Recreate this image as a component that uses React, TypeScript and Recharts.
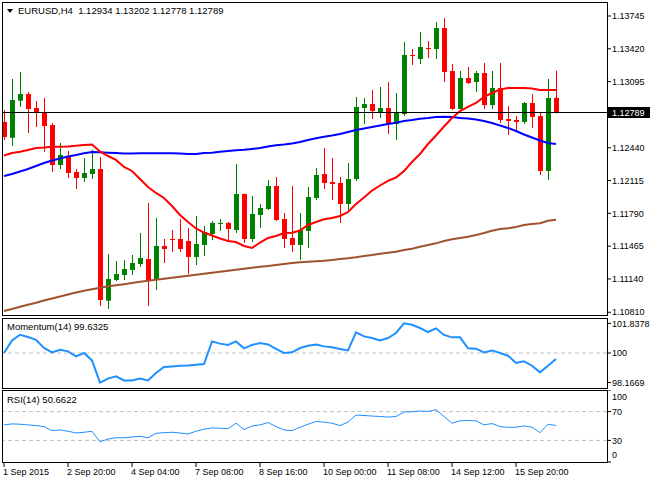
import React from 'react';
import { ComposedChart, LineChart, Line, Bar, XAxis, YAxis, ReferenceLine } from 'recharts';

const symbolName = 'EURUSD,H4';

const opens = [
  1.12695, 1.12539, 1.12906, 1.12972, 1.12834, 1.12794, 1.12665, 1.12269, 1.12358, 1.122,
  1.1214, 1.1218, 1.12229, 1.10925, 1.1113, 1.11179, 1.11229, 1.11288, 1.11338, 1.1113,
  1.11467, 1.11536, 1.11536, 1.11516, 1.11358, 1.11477, 1.11586, 1.11685, 1.11695, 1.11625,
  1.11982, 1.11536, 1.11774, 1.11833, 1.12061, 1.11734, 1.11546, 1.11477, 1.11616, 1.11942,
  1.1218, 1.12101, 1.12091, 1.11883, 1.1213, 1.12834, 1.12873, 1.12794, 1.12834, 1.12675,
  1.12774, 1.13359, 1.13319, 1.13428, 1.13418, 1.13626, 1.132, 1.12824, 1.13131, 1.13091,
  1.1318, 1.12863, 1.13032, 1.12725, 1.12715, 1.12695, 1.12883, 1.12754, 1.1221, 1.12934,
];
const highs = [
  1.12814, 1.13121, 1.1319, 1.12992, 1.12903, 1.12933, 1.12685, 1.12487, 1.12408, 1.12229,
  1.12338, 1.12418, 1.12348, 1.11387, 1.11318, 1.11328, 1.11378, 1.11596, 1.11893, 1.11744,
  1.11536, 1.11625, 1.11734, 1.11645, 1.11764, 1.11665, 1.11715, 1.11734, 1.11705, 1.12279,
  1.11985, 1.11962, 1.11883, 1.1212, 1.1215, 1.11794, 1.12061, 1.11794, 1.12051, 1.12239,
  1.12437, 1.12338, 1.1215, 1.12289, 1.12943, 1.12933, 1.13012, 1.13042, 1.13091, 1.12982,
  1.13487, 1.13418, 1.13587, 1.13497, 1.13686, 1.13725, 1.1327, 1.132, 1.1324, 1.132,
  1.13279, 1.132, 1.13279, 1.12853, 1.12754, 1.12893, 1.12972, 1.12784, 1.13121, 1.13202,
];
const lows = [
  1.12517, 1.12457, 1.12844, 1.12586, 1.12645, 1.12398, 1.122, 1.12229, 1.1214, 1.12031,
  1.12101, 1.1213, 1.10872, 1.10843, 1.1112, 1.1113, 1.11179, 1.11259, 1.10872, 1.11031,
  1.11298, 1.11407, 1.11407, 1.11189, 1.11278, 1.11368, 1.11526, 1.11616, 1.11516, 1.11596,
  1.11497, 1.11507, 1.11645, 1.11823, 1.11715, 1.11447, 1.11407, 1.11328, 1.11447, 1.11922,
  1.12031, 1.11922, 1.11695, 1.11823, 1.12111, 1.12675, 1.12725, 1.12735, 1.12576, 1.12517,
  1.12754, 1.1326, 1.1327, 1.13329, 1.13319, 1.13091, 1.12814, 1.1282, 1.13071, 1.12992,
  1.12824, 1.12824, 1.12685, 1.12566, 1.12596, 1.12675, 1.12636, 1.1217, 1.1212, 1.12778,
];
const closes = [
  1.12546, 1.12913, 1.12972, 1.12824, 1.12784, 1.12655, 1.12269, 1.12368, 1.1219, 1.1214,
  1.1219, 1.12229, 1.10932, 1.1114, 1.11189, 1.11239, 1.11298, 1.11348, 1.1113, 1.11467,
  1.11437, 1.11526, 1.11437, 1.11358, 1.11487, 1.11606, 1.11695, 1.11695, 1.11635, 1.11982,
  1.11536, 1.11784, 1.11843, 1.12061, 1.11724, 1.11536, 1.11477, 1.11625, 1.11952, 1.1217,
  1.12091, 1.12081, 1.11883, 1.1213, 1.12844, 1.12873, 1.12804, 1.12834, 1.12675, 1.12784,
  1.13359, 1.13349, 1.13438, 1.13418, 1.13626, 1.1319, 1.12824, 1.13131, 1.13081, 1.1318,
  1.12863, 1.13032, 1.12715, 1.12705, 1.12695, 1.12883, 1.12745, 1.1221, 1.12933, 1.12789,
];

// red moving average
const maFast = [
  1.12363, 1.12388, 1.12401, 1.12418, 1.12437, 1.12442, 1.1245, 1.1245, 1.12452, 1.1246,
  1.12467, 1.12472, 1.12403, 1.12358, 1.12319, 1.12249, 1.1221, 1.1213, 1.12051, 1.11992,
  1.11942, 1.11863, 1.11774, 1.11704, 1.1164, 1.116, 1.11571, 1.11541, 1.11516, 1.11506,
  1.11467, 1.11447, 1.11501, 1.11546, 1.11566, 1.11595, 1.11598, 1.1162, 1.11675, 1.11704,
  1.11731, 1.11744, 1.11764, 1.11803, 1.11883, 1.11947, 1.12016, 1.12066, 1.12111, 1.12145,
  1.1221, 1.12299, 1.12378, 1.12477, 1.12561, 1.1265, 1.12735, 1.12804, 1.12844, 1.12883,
  1.12943, 1.12982, 1.13017, 1.13032, 1.13032, 1.13032, 1.13027, 1.13012, 1.13012, 1.13012,
];
// blue moving average
const maMid = [
  1.1216, 1.1218, 1.12205, 1.12229, 1.12259, 1.12289, 1.12314, 1.12333, 1.12353, 1.12368,
  1.12385, 1.12398, 1.12395, 1.12391, 1.12388, 1.12383, 1.12383, 1.12385, 1.12385, 1.12385,
  1.12385, 1.12385, 1.12383, 1.12378, 1.12378, 1.12388, 1.12391, 1.12401, 1.12408, 1.12415,
  1.1242, 1.12428, 1.12437, 1.12452, 1.12464, 1.12472, 1.12482, 1.12497, 1.12517, 1.12534,
  1.12549, 1.12561, 1.12576, 1.12596, 1.12616, 1.12631, 1.12645, 1.1266, 1.12675, 1.12688,
  1.12705, 1.12715, 1.12727, 1.12735, 1.12745, 1.12747, 1.12745, 1.12735, 1.1273, 1.1272,
  1.12705, 1.12685, 1.1266, 1.12636, 1.12606, 1.12571, 1.12541, 1.12512, 1.12487, 1.12477,
];
// brown moving average
const maSlow = [
  1.10823, 1.10843, 1.10865, 1.10885, 1.10905, 1.10927, 1.10947, 1.10966, 1.10986, 1.11006,
  1.11024, 1.11039, 1.11054, 1.11067, 1.11077, 1.11088, 1.111, 1.11112, 1.11123, 1.11133,
  1.11143, 1.11153, 1.11163, 1.11172, 1.11182, 1.11192, 1.11202, 1.11212, 1.11222, 1.11232,
  1.11242, 1.11252, 1.11262, 1.11269, 1.11278, 1.11288, 1.11298, 1.11305, 1.11311, 1.11316,
  1.11321, 1.11328, 1.11338, 1.11345, 1.11355, 1.11368, 1.11378, 1.1139, 1.114, 1.1141,
  1.11427, 1.1144, 1.1146, 1.11477, 1.11493, 1.11516, 1.11533, 1.11546, 1.11559, 1.11576,
  1.11595, 1.11617, 1.11635, 1.11642, 1.11655, 1.11675, 1.11685, 1.11692, 1.11717, 1.11727,
];

const momentum = [
  100.0, 100.78, 101.13, 100.99, 100.82, 100.31, 100.04, 100.2, 100.1, 99.79,
  100.0, 99.54, 98.1669, 98.41, 98.55, 98.3, 98.3, 98.41, 98.3, 98.76,
  99.13, 99.17, 99.21, 99.23, 99.27, 99.32, 100.72, 100.58, 100.5, 100.72,
  100.29, 100.5, 100.62, 100.53, 100.25, 100.0, 100.04, 100.31, 100.45, 100.53,
  100.41, 100.35, 100.25, 100.16, 101.28, 101.03, 100.93, 100.78, 100.93, 101.24,
  101.8378, 101.75, 101.55, 101.3, 101.53, 101.12, 100.97, 100.97, 100.29, 100.27,
  100.04, 100.16, 100.0, 99.83, 99.38, 99.48, 99.21, 98.8, 99.21, 99.6325,
];
const rsi = [
  51.5, 52.9, 52.5, 51.5, 50.6, 49.2, 43.5, 44.5, 42.7, 40.3,
  41.3, 42.7, 28.1, 31.9, 33.7, 33.7, 34.7, 35.7, 33.7, 39.9,
  40.7, 41.3, 40.3, 38.9, 42.7, 45.5, 47.3, 46.9, 46.3, 53.9,
  44.9, 50.1, 51.5, 54.8, 49.2, 44.5, 43.5, 48.3, 52.5, 56.2,
  55.3, 53.9, 50.6, 55.3, 65.2, 64.6, 63.8, 63.2, 62.4, 63.2,
  69.4, 69.8, 70.8, 70.2, 72.6, 63.2, 53.9, 57.2, 57.6, 57.2,
  51.5, 53.4, 49.2, 48.3, 48.3, 50.1, 48.3, 40.7, 52.5, 50.6622,
];

const priceTicks = [1.1081, 1.1114, 1.11465, 1.1179, 1.12115, 1.1244, 1.13095, 1.1342, 1.13745];
const momentumTicks = [98.1669, 100, 101.8378];
const rsiTicks = [0, 30, 70, 100];
const rsiLevels = [30, 70];
const timeTickIndex = [0, 8, 16, 24, 32, 40, 48, 56, 64];
const timeTickLabels = [
  '1 Sep 2015', '2 Sep 20:00', '4 Sep 04:00', '7 Sep 08:00', '8 Sep 16:00',
  '10 Sep 00:00', '11 Sep 08:00', '14 Sep 12:00', '15 Sep 20:00',
];

const FONT = '"Liberation Sans", Arial, sans-serif';
const X_DOMAIN: [number, number] = [-0.25, 75.375];
const PRICE_DOMAIN: [number, number] = [1.107831, 1.138837];
const MOM_DOMAIN: [number, number] = [97.83, 102.17];

const rows = opens.map((o, i) => ({
  i,
  open: o,
  high: highs[i],
  low: lows[i],
  close: closes[i],
  maFast: maFast[i],
  maMid: maMid[i],
  maSlow: maSlow[i],
  momentum: momentum[i],
  rsi: rsi[i],
}));

const last = rows.length - 1;

const CandleShape = (props: any) => {
  const { x, y, width, height, payload } = props;
  if (!payload || x == null) return null;
  const { open, close, high, low } = payload;
  const top = Math.min(y, y + height);
  const bottom = Math.max(y, y + height);
  const span = high - low;
  const k = span > 0 ? (bottom - top) / span : 0;
  const cx = Math.round(x + width / 2);
  const bTop = top + (high - Math.max(open, close)) * k;
  const bBot = top + (high - Math.min(open, close)) * k;
  const color = close >= open ? '#008000' : '#FF0000';
  return (
    <g>
      <line x1={cx + 0.5} x2={cx + 0.5} y1={top} y2={bottom} stroke={color} strokeWidth={1} />
      <rect x={cx - 2} y={bTop} width={5} height={Math.max(1, bBot - bTop)} fill={color} />
    </g>
  );
};

const PriceTag = (props: any) => {
  const vb = props.viewBox || {};
  const { x = 0, y = 0, width = 0 } = vb;
  return (
    <g>
      <rect x={x + width + 1} y={y - 5.5} width={43} height={11} fill="#000" />
      <text x={x + width + 5} y={y} dy="0.355em" fill="#fff" fontSize={9} fontFamily={FONT}>
        {closes[last].toFixed(5)}
      </text>
    </g>
  );
};

const RsiTick = (props: any) => {
  const { x, y, payload } = props;
  const v = payload.value;
  const shift = v === 100 ? 7 : v === 0 ? -7 : 0;
  return (
    <text x={x} y={y + shift} dy="0.355em" textAnchor="start" fontSize={9} fontFamily={FONT} fill="#000">
      {String(v)}
    </text>
  );
};

const TimeTick = (props: any) => {
  const { x, y, payload } = props;
  const k = timeTickIndex.indexOf(payload.value);
  return (
    <text x={x - 1} y={y} dy={5.5} textAnchor="start" fontSize={9} fontFamily={FONT} fill="#000">
      {k >= 0 ? timeTickLabels[k] : ''}
    </text>
  );
};

const axisTick = { fontSize: 9, fill: '#000', fontFamily: FONT };

const frame = (top: number, height: number): React.CSSProperties => ({
  position: 'absolute',
  left: 2,
  top,
  width: 606,
  height,
  border: '1px solid #000',
  boxSizing: 'border-box',
  pointerEvents: 'none',
});

const labelStyle = (top: number): React.CSSProperties => ({
  position: 'absolute',
  left: 7,
  top,
  fontSize: 9.5,
  lineHeight: '12px',
  fontFamily: FONT,
  color: '#000',
  whiteSpace: 'pre',
});

export default function App() {
  const title = `${symbolName}  ${opens[last].toFixed(5)} ${highs[last].toFixed(5)} ${lows[last].toFixed(5)} ${closes[last].toFixed(5)}`;
  return (
    <div style={{ position: 'absolute', left: 0, top: 0, width: 650, height: 480, background: '#fff', overflow: 'hidden' }}>
      <div style={{ position: 'absolute', left: 0, top: 0 }}>
        <ComposedChart width={650} height={317} data={rows} margin={{ top: 2, right: 0, bottom: 2, left: 2 }}>
          <XAxis type="number" dataKey="i" domain={X_DOMAIN} hide allowDataOverflow />
          <YAxis
            orientation="right"
            width={43}
            domain={PRICE_DOMAIN}
            ticks={priceTicks}
            interval={0}
            allowDataOverflow
            axisLine={false}
            tickLine={{ stroke: '#000' }}
            tickSize={4}
            tickMargin={1}
            tick={axisTick}
            tickFormatter={(v: number) => v.toFixed(5)}
          />
          <Line dataKey="maSlow" type="linear" stroke="#A0522D" strokeWidth={2} dot={false} isAnimationActive={false} />
          <Line dataKey="maMid" type="linear" stroke="#0000FF" strokeWidth={2} dot={false} isAnimationActive={false} />
          <Line dataKey="maFast" type="linear" stroke="#FF0000" strokeWidth={2} dot={false} isAnimationActive={false} />
          <Bar
            dataKey={(d: any) => [d.low, d.high]}
            shape={CandleShape}
            barSize={6}
            isAnimationActive={false}
          />
          <ReferenceLine y={closes[last]} stroke="#000" strokeWidth={1} label={<PriceTag />} />
        </ComposedChart>
      </div>

      <div style={{ position: 'absolute', left: 0, top: 318 }}>
        <LineChart width={650} height={71} data={rows} margin={{ top: 0, right: 0, bottom: 1, left: 2 }}>
          <XAxis type="number" dataKey="i" domain={X_DOMAIN} hide allowDataOverflow />
          <YAxis
            orientation="right"
            width={43}
            domain={MOM_DOMAIN}
            ticks={momentumTicks}
            interval={0}
            allowDataOverflow
            axisLine={false}
            tickLine={{ stroke: '#000' }}
            tickSize={4}
            tickMargin={1}
            tick={axisTick}
            tickFormatter={(v: number) => String(v)}
          />
          <ReferenceLine y={100} stroke="#C0C0C0" strokeDasharray="4 3" />
          <Line dataKey="momentum" type="linear" stroke="#1E90FF" strokeWidth={2} dot={false} isAnimationActive={false} />
        </LineChart>
      </div>

      <div style={{ position: 'absolute', left: 0, top: 390 }}>
        <LineChart width={650} height={90} data={rows} margin={{ top: 0, right: 0, bottom: 0, left: 2 }}>
          <XAxis
            type="number"
            dataKey="i"
            domain={X_DOMAIN}
            allowDataOverflow
            ticks={timeTickIndex}
            interval={0}
            height={18}
            axisLine={false}
            tickLine={{ stroke: '#000' }}
            tickSize={5}
            tick={<TimeTick />}
          />
          <YAxis
            orientation="right"
            width={43}
            domain={[0, 100]}
            ticks={rsiTicks}
            interval={0}
            allowDataOverflow
            axisLine={false}
            tickLine={{ stroke: '#000' }}
            tickSize={4}
            tickMargin={1}
            tick={<RsiTick />}
          />
          {rsiLevels.map((lv) => (
            <ReferenceLine key={lv} y={lv} stroke="#C0C0C0" strokeDasharray="4 3" />
          ))}
          <Line dataKey="rsi" type="linear" stroke="#1E90FF" strokeWidth={1} dot={false} isAnimationActive={false} />
        </LineChart>
      </div>

      <div style={frame(2, 314)} />
      <div style={frame(318, 71)} />
      <div style={frame(390, 73)} />

      <div
        style={{
          position: 'absolute',
          left: 7,
          top: 9,
          width: 0,
          height: 0,
          borderLeft: '3px solid transparent',
          borderRight: '3px solid transparent',
          borderTop: '4px solid #000',
        }}
      />
      <div style={{ ...labelStyle(5), left: 18 }}>{title}</div>
      <div style={labelStyle(321)}>{`Momentum(14) ${momentum[last].toFixed(4)}`}</div>
      <div style={labelStyle(394)}>{`RSI(14) ${rsi[last].toFixed(4)}`}</div>
    </div>
  );
}
